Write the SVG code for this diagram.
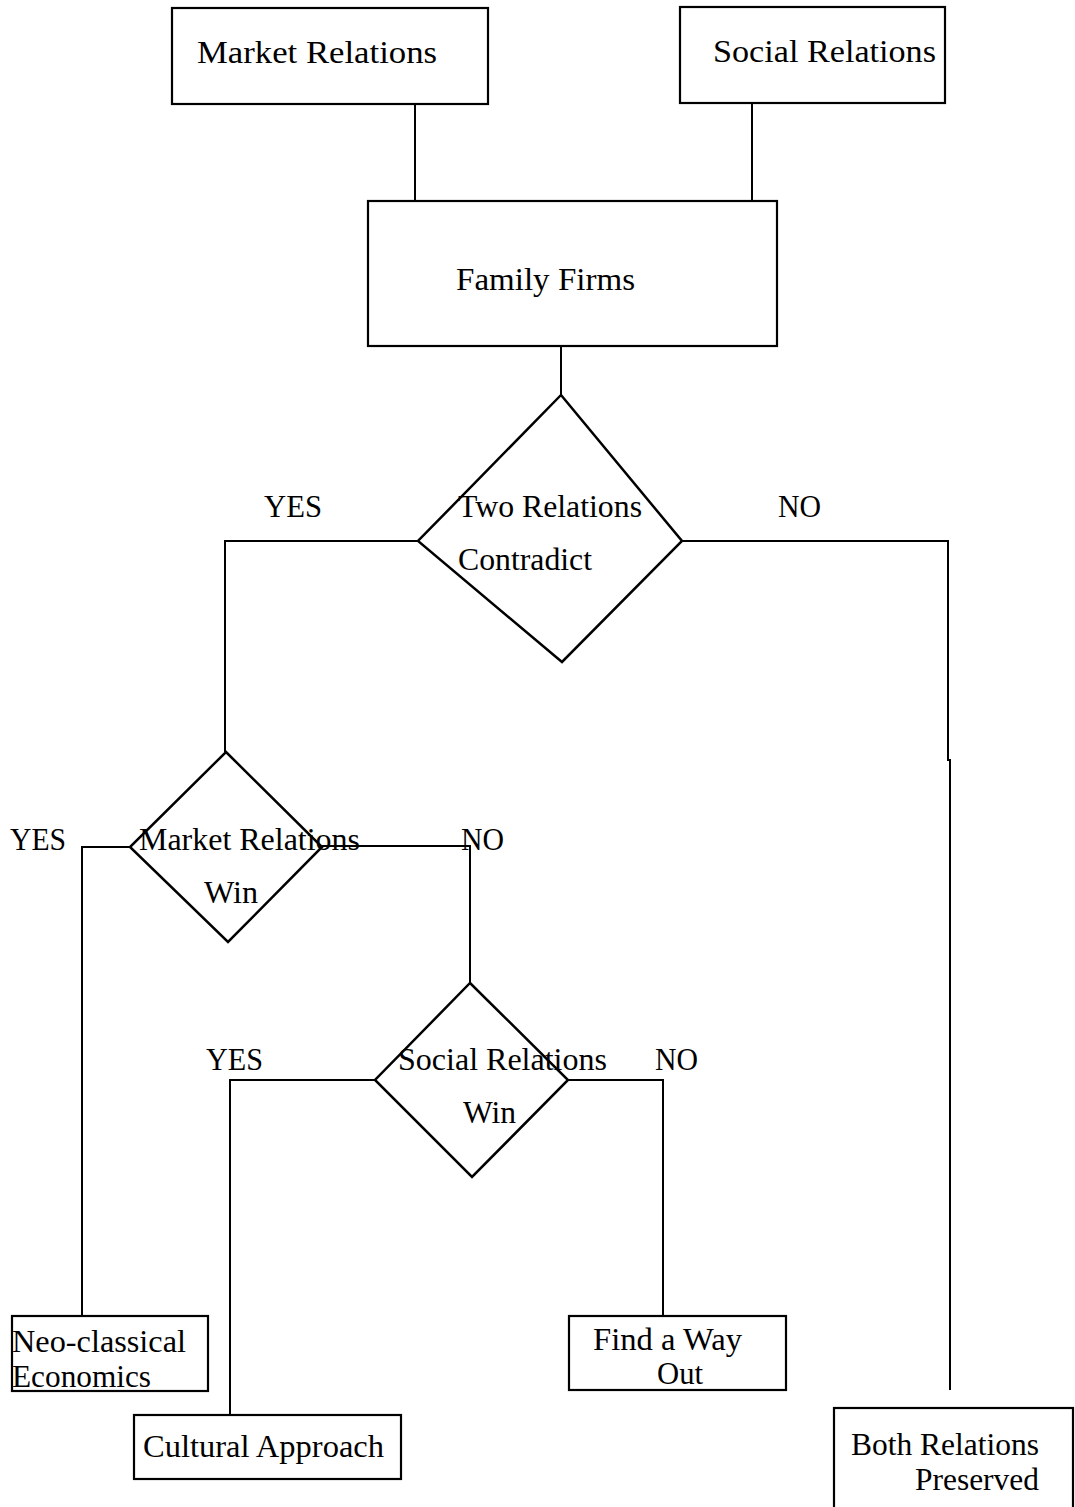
<svg xmlns="http://www.w3.org/2000/svg" width="1075" height="1507" viewBox="0 0 1075 1507">
<style>
.box{fill:#fff;stroke:#000;stroke-width:2.2}
.dia{fill:none;stroke:#000;stroke-width:2.5}
.c{fill:none;stroke:#000;stroke-width:2}
text{font-family:"Liberation Serif","Times New Roman",serif;font-size:32px;fill:#000}
</style>
<rect width="1075" height="1507" fill="#fff"/>
<g id="connectors">
<polyline class="c" points="415,104 415,201"/>
<polyline class="c" points="752,104 752,201"/>
<polyline class="c" points="561,346 561,395"/>
<polyline class="c" points="418,541 225,541 225,752"/>
<polyline class="c" points="682,541 948,541 948,760 950,760 950,1390"/>
<polyline class="c" points="130,847 82,847 82,1322"/>
<polyline class="c" points="322,846 470,846 470,983"/>
<polyline class="c" points="375,1080 230,1080 230,1420"/>
<polyline class="c" points="568,1080 663,1080 663,1322"/>
</g>
<g id="market-relations">
<rect class="box" x="172" y="8" width="316" height="96"/>
<text x="197" y="63" textLength="240" lengthAdjust="spacingAndGlyphs">Market Relations</text>
</g>
<g id="social-relations">
<rect class="box" x="680" y="7" width="265" height="96"/>
<text x="713" y="62" textLength="223" lengthAdjust="spacingAndGlyphs">Social Relations</text>
</g>
<g id="family-firms">
<rect class="box" x="368" y="201" width="409" height="145"/>
<text x="456" y="290" textLength="179" lengthAdjust="spacingAndGlyphs">Family Firms</text>
</g>
<g id="two-relations-contradict">
<polygon class="dia" points="561,395 682,541 562,662 418,541"/>
<text x="458" y="517" textLength="184" lengthAdjust="spacingAndGlyphs">Two Relations</text>
<text x="458" y="570" textLength="134" lengthAdjust="spacingAndGlyphs">Contradict</text>
</g>
<g id="labels-1">
<text x="264" y="517" textLength="58" lengthAdjust="spacingAndGlyphs">YES</text>
<text x="778" y="517" textLength="43" lengthAdjust="spacingAndGlyphs">NO</text>
</g>
<g id="market-relations-win">
<polygon class="dia" points="226,752 322,847 228,942 130,847"/>
<text x="139" y="850" textLength="221" lengthAdjust="spacingAndGlyphs">Market Relations</text>
<text x="204" y="903" textLength="54" lengthAdjust="spacingAndGlyphs">Win</text>
</g>
<g id="labels-2">
<text x="10" y="850" textLength="56" lengthAdjust="spacingAndGlyphs">YES</text>
<text x="461" y="850" textLength="43" lengthAdjust="spacingAndGlyphs">NO</text>
</g>
<g id="social-relations-win">
<polygon class="dia" points="470,983 568,1080 472,1177 375,1080"/>
<text x="398" y="1070" textLength="209" lengthAdjust="spacingAndGlyphs">Social Relations</text>
<text x="463" y="1123" textLength="53" lengthAdjust="spacingAndGlyphs">Win</text>
</g>
<g id="labels-3">
<text x="206" y="1070" textLength="57" lengthAdjust="spacingAndGlyphs">YES</text>
<text x="655" y="1070" textLength="43" lengthAdjust="spacingAndGlyphs">NO</text>
</g>
<g id="neo-classical-economics">
<rect class="box" x="12" y="1316" width="196" height="75"/>
<text x="12" y="1352" textLength="174" lengthAdjust="spacingAndGlyphs">Neo-classical</text>
<text x="12" y="1387" textLength="139" lengthAdjust="spacingAndGlyphs">Economics</text>
</g>
<g id="cultural-approach">
<rect class="box" x="134" y="1415" width="267" height="64"/>
<text x="143" y="1457" textLength="241" lengthAdjust="spacingAndGlyphs">Cultural Approach</text>
</g>
<g id="find-a-way-out">
<rect class="box" x="569" y="1316" width="217" height="74"/>
<text x="593" y="1350" textLength="149" lengthAdjust="spacingAndGlyphs">Find a Way</text>
<text x="657" y="1384" textLength="46" lengthAdjust="spacingAndGlyphs">Out</text>
</g>
<g id="both-relations-preserved">
<rect class="box" x="834" y="1408" width="239" height="110"/>
<text x="851" y="1455" textLength="188" lengthAdjust="spacingAndGlyphs">Both Relations</text>
<text x="915" y="1490" textLength="124" lengthAdjust="spacingAndGlyphs">Preserved</text>
</g>
</svg>
